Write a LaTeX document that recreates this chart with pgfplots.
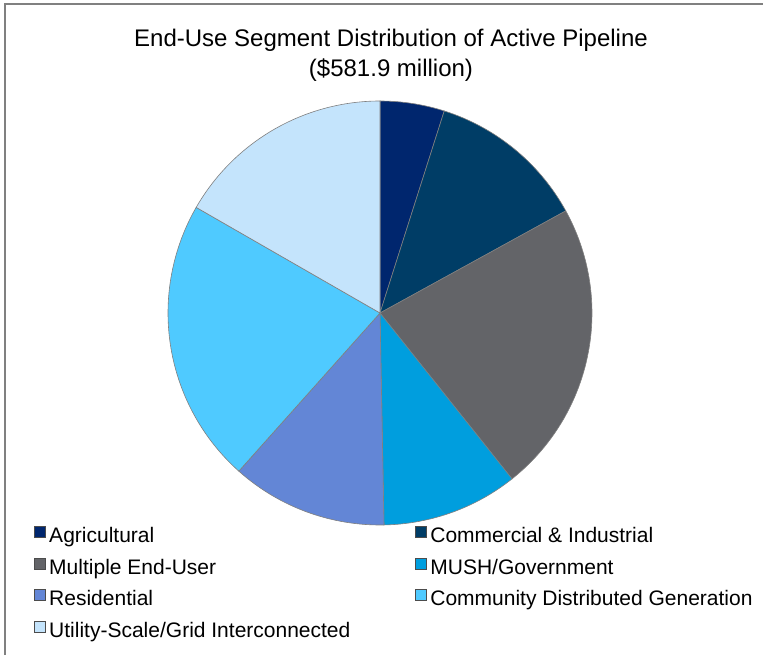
\documentclass[border=0pt]{standalone}
\usepackage{pgfplots}
\usepackage{pgfplotstable}
\pgfplotsset{compat=1.18}
\usepackage{fontspec}
\setmainfont{Liberation Sans}
\definecolor{cAgr}{RGB}{0,38,110}
\definecolor{cCom}{RGB}{0,61,102}
\definecolor{cMul}{RGB}{99,100,104}
\definecolor{cMus}{RGB}{0,158,222}
\definecolor{cRes}{RGB}{99,134,214}
\definecolor{cCdg}{RGB}{79,202,255}
\definecolor{cUti}{RGB}{196,228,252}
\definecolor{edge}{RGB}{128,128,128}
\definecolor{frame}{RGB}{128,128,128}
% share of the active pipeline, percent
\pgfplotstableread{
value
4.9
12.1
22.3
10.4
11.9
21.7
16.7
}\piedata
\begin{document}
\begin{tikzpicture}[x=1pt,y=1pt]
\useasboundingbox (0,0) rectangle (767,655);
\draw[frame, line width=1.5pt] (5,0) -- (5,651) -- (763,651);
\node[align=center, font=\fontsize{24}{30}\selectfont] at (391,600)
  {End-Use Segment Distribution of Active Pipeline\\(\$581.9 million)};
\pgfplotstablegetelem{0}{value}\of\piedata \let\vA\pgfplotsretval
\pgfplotstablegetelem{1}{value}\of\piedata \let\vB\pgfplotsretval
\pgfplotstablegetelem{2}{value}\of\piedata \let\vC\pgfplotsretval
\pgfplotstablegetelem{3}{value}\of\piedata \let\vD\pgfplotsretval
\pgfplotstablegetelem{4}{value}\of\piedata \let\vE\pgfplotsretval
\pgfplotstablegetelem{5}{value}\of\piedata \let\vF\pgfplotsretval
\pgfplotstablegetelem{6}{value}\of\piedata \let\vG\pgfplotsretval
\pgfmathsetmacro\aA{3.6*\vA}
\pgfmathsetmacro\aB{\aA+3.6*\vB}
\pgfmathsetmacro\aC{\aB+3.6*\vC}
\pgfmathsetmacro\aD{\aC+3.6*\vD}
\pgfmathsetmacro\aE{\aD+3.6*\vE}
\pgfmathsetmacro\aF{\aE+3.6*\vF}
\pgfmathsetmacro\aG{\aF+3.6*\vG}
\begin{axis}[
  at={(380pt,342pt)}, anchor=center,
  scale only axis, width=424pt, height=424pt,
  xmin=-1, xmax=1, ymin=-1, ymax=1,
  hide axis, clip=false,
  legend columns=2,
  legend cell align=left,
  legend image code/.code={\draw[#1, draw=black!70, line width=0.5pt] (0pt,0pt) rectangle (11pt,11pt);},
  legend style={draw=none, fill=none,
    at={(axis description cs:-0.323,0.002)}, anchor=north west,
    font=\fontsize{21}{24}\selectfont,
    nodes={inner sep=0pt, text height=15pt, text depth=5pt},
    row sep=10.3pt,
    /tikz/every odd column/.append style={column sep=3.5pt},
    /tikz/every even column/.append style={column sep=65pt}},
]
\addplot[fill=cAgr, draw=edge, line width=0.6pt, domain=0:\aA, samples=40, variable=\t] ({sin(\t)},{cos(\t)}) -- (0,0) -- cycle;
\addlegendentry{Agricultural}
\addplot[fill=cCom, draw=edge, line width=0.6pt, domain=\aA:\aB, samples=60, variable=\t] ({sin(\t)},{cos(\t)}) -- (0,0) -- cycle;
\addlegendentry{Commercial \& Industrial}
\addplot[fill=cMul, draw=edge, line width=0.6pt, domain=\aB:\aC, samples=80, variable=\t] ({sin(\t)},{cos(\t)}) -- (0,0) -- cycle;
\addlegendentry{Multiple End-User}
\addplot[fill=cMus, draw=edge, line width=0.6pt, domain=\aC:\aD, samples=60, variable=\t] ({sin(\t)},{cos(\t)}) -- (0,0) -- cycle;
\addlegendentry{MUSH/Government}
\addplot[fill=cRes, draw=edge, line width=0.6pt, domain=\aD:\aE, samples=60, variable=\t] ({sin(\t)},{cos(\t)}) -- (0,0) -- cycle;
\addlegendentry{Residential}
\addplot[fill=cCdg, draw=edge, line width=0.6pt, domain=\aE:\aF, samples=80, variable=\t] ({sin(\t)},{cos(\t)}) -- (0,0) -- cycle;
\addlegendentry{Community Distributed Generation}
\addplot[fill=cUti, draw=edge, line width=0.6pt, domain=\aF:\aG, samples=60, variable=\t] ({sin(\t)},{cos(\t)}) -- (0,0) -- cycle;
\addlegendentry{Utility-Scale/Grid Interconnected}
\end{axis}
\end{tikzpicture}
\end{document}
